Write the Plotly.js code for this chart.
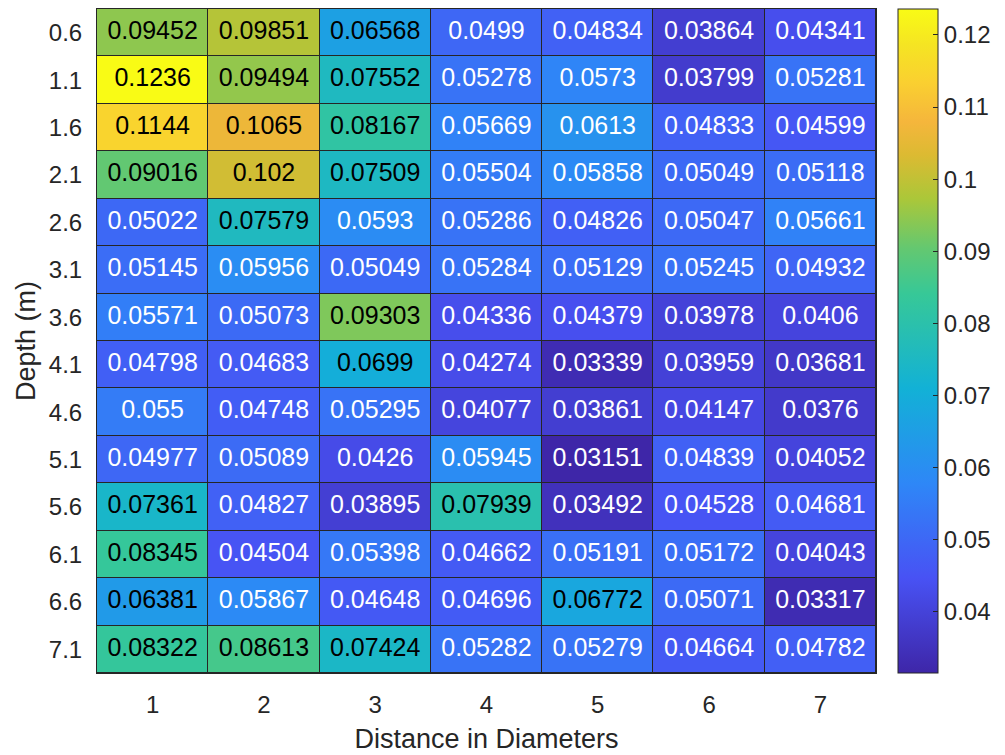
<!DOCTYPE html>
<html>
<head>
<meta charset="utf-8">
<script src="https://cdn.plot.ly/plotly-3.0.1.min.js"></script>
<style>
  html, body { margin: 0; padding: 0; background: #ffffff; }
  #chart { width: 1005px; height: 755px; }
</style>
</head>
<body>
<div id="chart"></div>
<script>
// ---- data ----
const distances = [1, 2, 3, 4, 5, 6, 7];
const depthLabels = ['0.6', '1.1', '1.6', '2.1', '2.6', '3.1', '3.6', '4.1', '4.6', '5.1', '5.6', '6.1', '6.6', '7.1'];
const values = [
  [0.09452, 0.09851, 0.06568, 0.0499, 0.04834, 0.03864, 0.04341],
  [0.1236, 0.09494, 0.07552, 0.05278, 0.0573, 0.03799, 0.05281],
  [0.1144, 0.1065, 0.08167, 0.05669, 0.0613, 0.04833, 0.04599],
  [0.09016, 0.102, 0.07509, 0.05504, 0.05858, 0.05049, 0.05118],
  [0.05022, 0.07579, 0.0593, 0.05286, 0.04826, 0.05047, 0.05661],
  [0.05145, 0.05956, 0.05049, 0.05284, 0.05129, 0.05245, 0.04932],
  [0.05571, 0.05073, 0.09303, 0.04336, 0.04379, 0.03978, 0.0406],
  [0.04798, 0.04683, 0.0699, 0.04274, 0.03339, 0.03959, 0.03681],
  [0.055, 0.04748, 0.05295, 0.04077, 0.03861, 0.04147, 0.0376],
  [0.04977, 0.05089, 0.0426, 0.05945, 0.03151, 0.04839, 0.04052],
  [0.07361, 0.04827, 0.03895, 0.07939, 0.03492, 0.04528, 0.04681],
  [0.08345, 0.04504, 0.05398, 0.04662, 0.05191, 0.05172, 0.04043],
  [0.06381, 0.05867, 0.04648, 0.04696, 0.06772, 0.05071, 0.03317],
  [0.08322, 0.08613, 0.07424, 0.05282, 0.05279, 0.04664, 0.04782]
];
const colorbarTickVals = [0.04, 0.05, 0.06, 0.07, 0.08, 0.09, 0.1, 0.11, 0.12];
const colorbarTickText = ['0.04', '0.05', '0.06', '0.07', '0.08', '0.09', '0.1', '0.11', '0.12'];

// ---- parula-like colormap ----
const parula = [
  [0.000, [62, 38, 168]],
  [1/7,   [72, 82, 244]],
  [2/7,   [46, 135, 247]],
  [3/7,   [18, 177, 214]],
  [4/7,   [55, 200, 151]],
  [0.640, [100, 200, 112]],
  [5/7,   [171, 199, 57]],
  [0.780, [220, 186, 50]],
  [0.830, [245, 182, 60]],
  [0.890, [250, 208, 48]],
  [0.945, [245, 228, 35]],
  [1.000, [249, 251, 21]]
];
const colorscale = parula.map(p => [p[0], 'rgb(' + p[1].join(',') + ')']);

function colorAt(t) {
  t = Math.max(0, Math.min(1, t));
  for (let i = 1; i < parula.length; i++) {
    if (t <= parula[i][0]) {
      const a = parula[i - 1], b = parula[i];
      const f = (t - a[0]) / (b[0] - a[0]);
      return a[1].map((c, k) => c + (b[1][k] - c) * f);
    }
  }
  return parula[parula.length - 1][1];
}

const flat = values.flat();
const zmin = Math.min(...flat), zmax = Math.max(...flat);

const tx = [], ty = [], tt = [], tc = [];
values.forEach((row, r) => {
  row.forEach((v, c) => {
    tx.push(distances[c]);
    ty.push(depthLabels[r]);
    tt.push(String(v));
    const rgb = colorAt((v - zmin) / (zmax - zmin));
    const lum = (0.299 * rgb[0] + 0.587 * rgb[1] + 0.114 * rgb[2]) / 255;
    tc.push(lum > 0.492 ? '#000000' : '#ffffff');
  });
});

const heat = {
  type: 'heatmap',
  x: distances,
  y: depthLabels,
  z: values,
  zmin: zmin,
  zmax: zmax,
  colorscale: colorscale,
  xgap: 1,
  ygap: 1,
  hoverinfo: 'skip',
  colorbar: {
    x: 1.0281,
    xanchor: 'left',
    xpad: 0,
    y: 0.5,
    yanchor: 'middle',
    ypad: 0,
    len: 1,
    lenmode: 'fraction',
    thickness: 40,
    thicknessmode: 'pixels',
    outlinecolor: '#262626',
    outlinewidth: 1,
    ticks: 'inside',
    ticklen: 5,
    tickwidth: 1,
    tickcolor: '#262626',
    tickvals: colorbarTickVals,
    ticktext: colorbarTickText,
    tickfont: { family: 'Liberation Sans, Arial, sans-serif', size: 24, color: '#262626' }
  }
};

const labels = {
  type: 'scatter',
  mode: 'text',
  x: tx,
  y: ty,
  text: tt,
  textposition: 'middle center',
  textfont: { family: 'Liberation Sans, Arial, sans-serif', size: 25, color: tc },
  hoverinfo: 'skip',
  showlegend: false
};

const layout = {
  width: 1005,
  height: 755,
  margin: { l: 97, r: 124, t: 9, b: 82, pad: 0 },
  paper_bgcolor: '#ffffff',
  plot_bgcolor: '#262626',
  showlegend: false,
  font: { family: 'Liberation Sans, Arial, sans-serif', color: '#262626' },
  xaxis: {
    range: [0.5, 7.5],
    tickvals: distances,
    ticks: '',
    showgrid: false,
    zeroline: false,
    showline: true,
    mirror: true,
    linecolor: '#262626',
    linewidth: 1,
    ticklabelstandoff: 10,
    tickfont: { size: 24, color: '#262626' },
    title: { text: 'Distance in Diameters', font: { size: 27, color: '#262626' }, standoff: 12 },
    automargin: false,
    fixedrange: true
  },
  yaxis: {
    type: 'category',
    range: [13.5, -0.5],
    ticks: '',
    showgrid: false,
    zeroline: false,
    showline: true,
    mirror: true,
    linecolor: '#262626',
    linewidth: 1,
    ticklabelstandoff: 9,
    tickfont: { size: 24, color: '#262626' },
    title: { text: 'Depth (m)', font: { size: 27, color: '#262626' }, standoff: 5 },
    automargin: false,
    fixedrange: true
  }
};

Plotly.newPlot('chart', [heat, labels], layout, { displayModeBar: false, staticPlot: true });
</script>
</body>
</html>
